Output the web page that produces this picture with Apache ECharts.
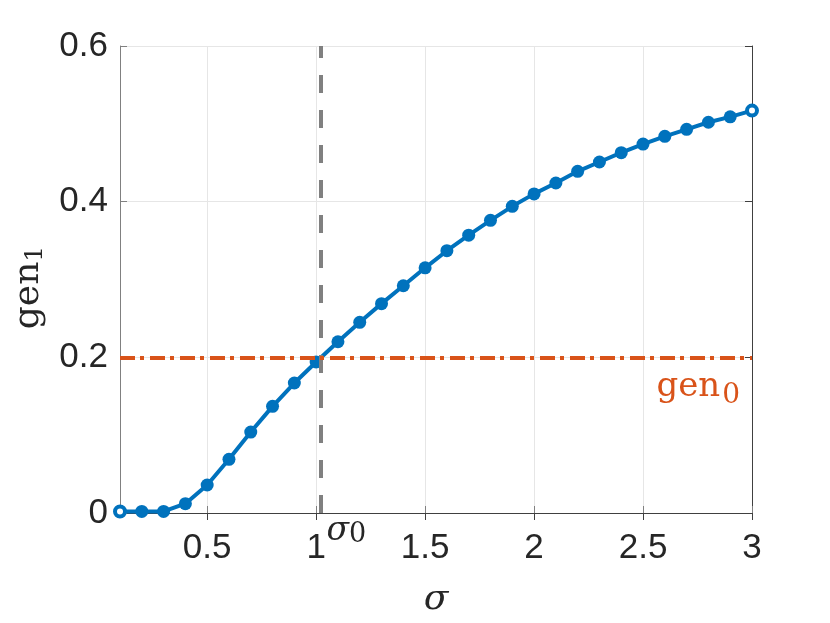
<!DOCTYPE html>
<html>
<head>
<meta charset="utf-8">
<script src="https://cdn.jsdelivr.net/npm/echarts@6/dist/echarts.min.js"></script>
<style>
  html, body { margin: 0; background: #fff; }
  #chart { width: 830px; height: 623px; }
</style>
</head>
<body>
<div id="chart"></div>
<script>
// data
const sigma = [0.1, 0.2, 0.3, 0.4, 0.5, 0.6, 0.7, 0.8, 0.9, 1.0,
               1.1, 1.2, 1.3, 1.4, 1.5, 1.6, 1.7, 1.8, 1.9, 2.0,
               2.1, 2.2, 2.3, 2.4, 2.5, 2.6, 2.7, 2.8, 2.9, 3.0];
const gen1 = [0.002, 0.002, 0.002, 0.012, 0.036, 0.069, 0.104, 0.137, 0.167, 0.194,
              0.220, 0.245, 0.269, 0.292, 0.315, 0.337, 0.357, 0.376, 0.394, 0.410,
              0.424, 0.439, 0.451, 0.463, 0.474, 0.484, 0.493, 0.502, 0.509, 0.517];
const xTicks = [0.5, 1, 1.5, 2, 2.5, 3];
const yTicks = [0, 0.2, 0.4, 0.6];
const sigma0 = 1.02;
const gen0 = 0.2;

const blue = "#0072BD";
const orange = "#D95319";
const textColor = "#262626";

const chart = echarts.init(document.getElementById("chart"));

const points = sigma.map((s, i) => {
  const p = { value: [s, gen1[i]] };
  if (i === 0 || i === sigma.length - 1) {
    p.itemStyle = { color: "#fff", borderColor: blue, borderWidth: 4 };
    p.symbolSize = 10;
  }
  return p;
});

chart.setOption({
  animation: false,
  grid: { left: 120, right: 78, top: 46, bottom: 110, containLabel: false },
  xAxis: [
    {
      type: "value",
      min: 0.1,
      max: 3,
      name: "σ",
      nameLocation: "middle",
      nameGap: 69,
      nameTextStyle: { fontFamily: "DejaVu Serif", fontStyle: "italic", fontSize: 36, color: textColor },
      axisLine: { lineStyle: { color: "#808080", width: 1 } },
      axisTick: { inside: true, length: 7, customValues: xTicks, lineStyle: { color: "#808080" } },
      axisLabel: {
        customValues: xTicks,
        margin: 18,
        fontFamily: "Liberation Sans",
        fontSize: 35,
        color: textColor
      },
      splitLine: { show: true, lineStyle: { color: "#e6e6e6", width: 1 } }
    },
    {
      type: "value",
      position: "top",
      min: 0.1,
      max: 3,
      axisLine: { show: true, lineStyle: { color: "#404040", width: 1 } },
      axisTick: { inside: true, length: 7, customValues: xTicks, lineStyle: { color: "#404040" } },
      axisLabel: { show: false },
      splitLine: { show: false }
    }
  ],
  yAxis: [
    {
      type: "value",
      min: 0,
      max: 0.6,
      interval: 0.2,
      name: "{g|gen}{s|1}",
      nameLocation: "middle",
      nameRotate: 90,
      nameGap: 70,
      nameTextStyle: {
        padding: [0, 16, 0, 0],
        rich: {
          g: { fontFamily: "DejaVu Serif", fontSize: 36, color: textColor },
          s: { fontFamily: "DejaVu Serif", fontSize: 25, color: textColor, padding: [14, 0, 0, 0] }
        }
      },
      axisLine: { show: true, lineStyle: { color: "#808080", width: 1 } },
      axisTick: { show: true, inside: true, length: 7, lineStyle: { color: "#808080" } },
      axisLabel: { margin: 12, fontFamily: "Liberation Sans", fontSize: 35, color: textColor },
      splitLine: { show: true, lineStyle: { color: "#e6e6e6", width: 1 } }
    },
    {
      type: "value",
      position: "right",
      min: 0,
      max: 0.6,
      interval: 0.2,
      axisLine: { show: true, lineStyle: { color: "#404040", width: 1 } },
      axisTick: { show: true, inside: true, length: 7, lineStyle: { color: "#404040" } },
      axisLabel: { show: false },
      splitLine: { show: false }
    }
  ],
  series: [
    {
      type: "line",
      data: points,
      symbol: "circle",
      symbolSize: 13,
      clip: false,
      lineStyle: { color: blue, width: 4 },
      itemStyle: { color: blue },
      z: 3
    },
    {
      type: "line",
      data: [],
      markLine: {
        silent: true,
        symbol: "none",
        animation: false,
        data: [
          {
            xAxis: sigma0,
            lineStyle: { color: "#808080", width: 4, type: [18, 17] },
            label: { show: false }
          },
          {
            yAxis: gen0,
            lineStyle: { color: orange, width: 4, type: [15, 5, 4, 6] },
            label: {
              show: true,
              position: "insideEndBottom",
              distance: [12, 8],
              formatter: "{g|gen}{s|0}",
              rich: {
                g: { fontFamily: "DejaVu Serif", fontSize: 34, color: orange },
                s: { fontFamily: "DejaVu Serif", fontSize: 28, color: orange, padding: [16, 0, 0, 2] }
              }
            }
          }
        ]
      },
      z: 2
    }
  ]
});

// sigma_0 annotation beside the dashed line
const p0 = chart.convertToPixel({ gridIndex: 0 }, [sigma0, 0]);
chart.setOption({
  graphic: [
    {
      type: "text",
      x: p0[0] + 6,
      y: p0[1] + 2,
      style: {
        text: "{s|σ}{z|0}",
        rich: {
          s: { fontFamily: "DejaVu Serif", fontStyle: "italic", fontSize: 33, fill: textColor },
          z: { fontFamily: "DejaVu Serif", fontSize: 27, fill: textColor, padding: [6, 0, 0, 0] }
        }
      }
    }
  ]
});
</script>
</body>
</html>
